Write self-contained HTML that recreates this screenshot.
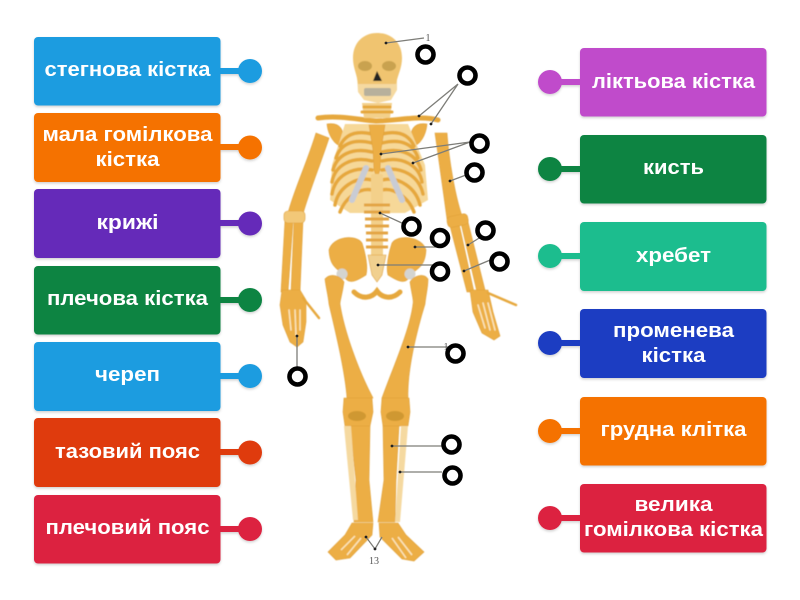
<!DOCTYPE html>
<html><head><meta charset="utf-8"><style>
html,body{margin:0;padding:0;background:#fff;width:800px;height:600px;overflow:hidden}
svg{display:block}
text{font-family:"Liberation Sans","DejaVu Sans",sans-serif;font-weight:700;font-size:20.5px;fill:#fff;text-anchor:middle}
.b{fill:#ecae45;stroke:#dfa038;stroke-width:.6}
.l{fill:#f5d9a0}
.r{fill:none;stroke:#e6a83e;stroke-width:3.5;stroke-linecap:round}
.w{fill:none;stroke:#fbe6bd;stroke-width:2.5;stroke-linecap:round}
.p{fill:none;stroke:#7d7d78;stroke-width:1.3}
.d{fill:#222}
.o{fill:#fff;stroke:#000;stroke-width:4.6}
.n{font-family:"Liberation Serif",serif;font-weight:400;font-size:10px;fill:#555}
</style></head><body>
<svg width="800" height="600" viewBox="0 0 800 600" xmlns="http://www.w3.org/2000/svg">
<defs><filter id="s" x="-10%" y="-10%" width="120%" height="125%"><feDropShadow dx="0" dy="1.5" stdDeviation="1.2" flood-color="#000" flood-opacity=".18"/></filter>
<filter id="bl" x="-5%" y="-5%" width="110%" height="110%"><feGaussianBlur stdDeviation="0.6"/></filter></defs>

<!-- skeleton -->
<g filter="url(#bl)">
<!-- arms -->
<path class="b" d="M316 133 L329 138 C322 160 308 195 303 214 L288 213 C294 190 308 160 316 133Z"/>
<path class="b" d="M285 220 L293 222 L288 292 L281 292Z"/>
<path class="b" d="M294 222 L303 220 L300 292 L291 292Z"/>
<rect class="b" x="284" y="211" width="21" height="12" rx="4" style="fill:#f2c878"/>
<path class="b" d="M435 133 L447 133 C449 160 455 195 462 216 L447 219 C443 190 439 160 435 133Z"/>
<path class="b" d="M449 222 L458 219 L474 292 L467 292Z"/>
<path class="b" d="M460 219 L468 222 L485 290 L477 292Z"/>
<rect class="b" x="447" y="215" width="21" height="11" rx="4" transform="rotate(-12 458 220)"/>
<!-- left hand -->
<path class="b" d="M282 290 L300 290 L306 300 L306 322 L303 342 L297 347 L290 342 L283 325 L280 305Z"/>
<path class="r" d="M303 298 L319 318" style="stroke-width:2.5"/>
<path class="w" d="M289 310 L291 330M295 310 L296 335M300 310 L300 330" style="stroke-width:1.5"/>
<!-- right hand -->
<path class="b" d="M470 290 L488 290 L493 312 L500 336 L494 340 L482 333 L473 312Z"/>
<path class="r" d="M488 293 L516 305" style="stroke-width:2.5"/>
<path class="w" d="M478 305 L485 328M483 303 L490 330M488 303 L495 330" style="stroke-width:1.5"/>
<!-- shoulders and clavicle -->
<path class="r" d="M318 118 C340 115 360 120 376 121 C395 121 420 115 438 120" style="stroke-width:5"/>
<path class="b" d="M327 124 C340 122 346 130 342 146 C335 146 328 135 327 124Z"/>
<path class="b" d="M427 124 C414 122 408 130 412 146 C420 146 426 135 427 124Z"/>
<!-- ribs -->
<path d="M345 124 L408 124 L425 165 L428 200 L405 213 L350 213 L330 200 L332 165Z" fill="#f6d898"/>
<path class="r" d="M372 134 C355 130 345 135 340 146M372 143 C352 138 340 145 336 158M372 152 C352 147 337 155 333 170M372 161 C352 156 335 165 332 182M372 170 C352 166 335 176 332 194M372 180 C355 176 338 188 335 205M372 190 C360 187 345 198 340 212"/>
<path class="r" d="M382 134 C399 130 409 135 414 146M382 143 C402 138 414 145 418 158M382 152 C402 147 417 155 421 170M382 161 C402 156 419 165 422 182M382 170 C402 166 419 176 423 194M382 180 C399 176 416 188 420 205M382 190 C394 187 409 198 414 212"/>
<path d="M366 168 L352 200M388 168 L402 200" fill="none" stroke="#c9ccd4" stroke-width="6" stroke-linecap="round"/>
<path class="b" d="M369 125 L385 125 L381 150 L380 170 L377 178 L374 170 L373 150Z"/>
<!-- spine -->
<path d="M362 103 L392 103 L390 118 L364 118Z" fill="#f3d08a"/>
<path class="r" d="M362 112 L392 112M364 107 L390 107" style="stroke-width:3"/>
<rect x="371" y="174" width="12" height="90" rx="2" fill="#f3d08a"/>
<path d="M364 205H390M364 212H390M365 219H389M365 226H389M366 233H388M366 240H388M366 247H388" stroke="#e3a544" stroke-width="3" fill="none"/>
<!-- pelvis -->
<path class="b" d="M329 250 C333 236 356 234 362 243 C366 255 368 268 366 275 C358 280 350 285 345 278 C340 268 330 270 329 250Z"/>
<path class="b" d="M426 250 C422 236 398 234 392 243 C388 255 386 268 388 275 C396 280 404 285 409 278 C414 268 425 270 426 250Z"/>
<path class="b" d="M368 255 L386 255 L382 275 L377 282 L372 275Z" style="fill:#f1d08f"/>
<path class="r" d="M354 292 C362 300 372 298 377 291 C382 298 392 300 400 292" style="stroke-width:5"/>
<circle cx="342" cy="274" r="5.5" fill="#d4d4d0"/><circle cx="410" cy="274" r="5.5" fill="#d4d4d0"/>
<!-- femurs -->
<path class="b" d="M325 279 C330 273 340 275 344 282 C342 296 340 300 340 304 C344 330 358 370 373 398 L347 398 C345 370 335 330 329 304 C328 294 326 288 325 279Z"/>
<path class="b" d="M428 279 C424 273 414 275 410 282 C412 296 414 300 413 304 C410 330 392 370 382 398 L408 398 C407 370 417 330 425 304 C426 294 428 288 428 279Z"/>
<!-- knees -->
<path class="b" d="M344 398 L372 398 L373 412 L370 426 L345 426 L343 412Z"/>
<path class="b" d="M382 398 L409 398 L410 412 L408 426 L383 426 L381 412Z"/>
<ellipse cx="357" cy="416" rx="9" ry="5" fill="#cf9830"/><ellipse cx="395" cy="416" rx="9" ry="5" fill="#cf9830"/>
<!-- lower legs -->
<path class="b" d="M350 426 L370 426 L369 480 L373 522 L354 522 L356 480Z"/>
<path class="l" d="M344 426 L351 426 L358 520 L353 520Z"/>
<path class="b" d="M383 426 L399 426 L396 480 L395 522 L378 522 L384 480Z"/>
<path class="l" d="M401 426 L408 426 L400 522 L395 522Z"/>
<!-- feet -->
<path class="b" d="M352 523 L373 523 L372 535 L350 558 L336 560 L328 552 L345 535Z"/>
<path class="b" d="M379 523 L398 523 L406 535 L424 552 L414 561 L402 559 L380 537Z"/>
<path d="M341 550 L355 536M347 555 L361 538M412 555 L398 537M406 558 L392 538" stroke="#fbe6bd" stroke-width="1.5" fill="none"/>
<!-- skull -->
<path class="l" d="M357 76 L397 76 L397 90 L391 100 L378 103 L364 100 L358 92Z"/>
<path d="M353 58 C353 42 364 33 377 33 C391 33 402 42 402 58 C402 68 398 74 396 84 L358 84 C357 74 353 68 353 58Z" fill="#f0c46f"/>
<ellipse cx="365" cy="66" rx="7" ry="5" fill="#c9a250"/><ellipse cx="389" cy="66" rx="7" ry="5" fill="#c9a250"/>
<path d="M377 71 L382 81 L373 81Z" fill="#222"/>
<rect x="364" y="88" width="27" height="8" rx="2" fill="#b7b09c"/>
</g>

<!-- pointer lines -->
<path class="p" d="M386 43 L424 38M419 116 L458 84M431 124 L458 84M381 154 L470 142M413 163 L470 142M450 181 L466 175M380 213 L404 224M415 247 L440 247M378 265 L440 265M468 245 L484 235M464 271 L495 258M297 336 L297 370M408 347 L450 347M392 446 L442 446M400 472 L442 472M366 537 L375 549 L382 537"/>
<g class="d"><circle cx="386" cy="43" r="1.4"/><circle cx="419" cy="116" r="1.4"/><circle cx="431" cy="124" r="1.4"/><circle cx="381" cy="154" r="1.4"/><circle cx="413" cy="163" r="1.4"/><circle cx="450" cy="181" r="1.4"/><circle cx="380" cy="213" r="1.4"/><circle cx="415" cy="247" r="1.4"/><circle cx="378" cy="265" r="1.4"/><circle cx="468" cy="245" r="1.4"/><circle cx="464" cy="271" r="1.4"/><circle cx="297" cy="336" r="1.4"/><circle cx="408" cy="347" r="1.4"/><circle cx="392" cy="446" r="1.4"/><circle cx="400" cy="472" r="1.4"/><circle cx="366" cy="537" r="1.4"/><circle cx="375" cy="549" r="1.4"/></g>
<text class="n" x="428" y="41">1</text>
<text class="n" x="374" y="564">13</text>
<text class="n" x="446" y="350">1</text>

<!-- rings -->
<g class="o"><circle cx="425.500" cy="54.500" r="8"/><circle cx="467.500" cy="75.500" r="8"/><circle cx="479.500" cy="143.500" r="8"/><circle cx="474.500" cy="172.500" r="8"/><circle cx="411.500" cy="226.500" r="8"/><circle cx="440" cy="238" r="8"/><circle cx="485.500" cy="230.500" r="8"/><circle cx="440" cy="271.500" r="8"/><circle cx="499.500" cy="261.500" r="8"/><circle cx="455.500" cy="353.500" r="8"/><circle cx="297.500" cy="376.500" r="8"/><circle cx="451.500" cy="444.500" r="8"/><circle cx="452.500" cy="475.500" r="8"/></g>

<!-- left labels -->
<g filter="url(#s)" fill="#1f9ce0"><rect x="34" y="37" width="186.500" height="68.500" rx="4"/><rect x="218" y="68" width="24" height="6"/><circle cx="250" cy="71" r="12"/></g>
<g filter="url(#s)" fill="#f57200"><rect x="34" y="113" width="186.500" height="69" rx="4"/><rect x="218" y="144" width="24" height="6"/><circle cx="250" cy="147.500" r="12"/></g>
<g filter="url(#s)" fill="#6529b9"><rect x="34" y="189" width="186.500" height="69" rx="4"/><rect x="218" y="220" width="24" height="6"/><circle cx="250" cy="223.500" r="12"/></g>
<g filter="url(#s)" fill="#0a8443"><rect x="34" y="266" width="186.500" height="68.500" rx="4"/><rect x="218" y="297" width="24" height="6"/><circle cx="250" cy="300" r="12"/></g>
<g filter="url(#s)" fill="#1f9ce0"><rect x="34" y="342" width="186.500" height="69" rx="4"/><rect x="218" y="373" width="24" height="6"/><circle cx="250" cy="376" r="12"/></g>
<g filter="url(#s)" fill="#df3a0e"><rect x="34" y="418" width="186.500" height="69" rx="4"/><rect x="218" y="449" width="24" height="6"/><circle cx="250" cy="452.500" r="12"/></g>
<g filter="url(#s)" fill="#dc2340"><rect x="34" y="495" width="186.500" height="68.500" rx="4"/><rect x="218" y="526" width="24" height="6"/><circle cx="250" cy="529" r="12"/></g>

<!-- right labels -->
<g filter="url(#s)" fill="#c04ccb"><rect x="580" y="48" width="186.500" height="68.500" rx="4"/><rect x="558" y="79" width="24" height="6"/><circle cx="550" cy="82" r="12"/></g>
<g filter="url(#s)" fill="#0a8443"><rect x="580" y="135" width="186.500" height="68.500" rx="4"/><rect x="558" y="166" width="24" height="6"/><circle cx="550" cy="169" r="12"/></g>
<g filter="url(#s)" fill="#1fbd8e"><rect x="580" y="222" width="186.500" height="69" rx="4"/><rect x="558" y="253" width="24" height="6"/><circle cx="550" cy="256" r="12"/></g>
<g filter="url(#s)" fill="#1f3cc2"><rect x="580" y="309" width="186.500" height="69" rx="4"/><rect x="558" y="340" width="24" height="6"/><circle cx="550" cy="343" r="12"/></g>
<g filter="url(#s)" fill="#f57200"><rect x="580" y="397" width="186.500" height="68.500" rx="4"/><rect x="558" y="428" width="24" height="6"/><circle cx="550" cy="431" r="12"/></g>
<g filter="url(#s)" fill="#dc2340"><rect x="580" y="484" width="186.500" height="68.500" rx="4"/><rect x="558" y="515" width="24" height="6"/><circle cx="550" cy="518" r="12"/></g>

<text x="127.500" y="76" textLength="166" lengthAdjust="spacingAndGlyphs">стегнова кістка</text>
<text x="127.500" y="141" textLength="170" lengthAdjust="spacingAndGlyphs">мала гомілкова</text>
<text x="127.500" y="166" textLength="64" lengthAdjust="spacingAndGlyphs">кістка</text>
<text x="127.500" y="229" textLength="62" lengthAdjust="spacingAndGlyphs">крижі</text>
<text x="127.500" y="305" textLength="161" lengthAdjust="spacingAndGlyphs">плечова кістка</text>
<text x="127.500" y="381" textLength="65" lengthAdjust="spacingAndGlyphs">череп</text>
<text x="127.500" y="458" textLength="145" lengthAdjust="spacingAndGlyphs">тазовий пояс</text>
<text x="127.500" y="534" textLength="164" lengthAdjust="spacingAndGlyphs">плечовий пояс</text>

<text x="673.500" y="88" textLength="163" lengthAdjust="spacingAndGlyphs">ліктьова кістка</text>
<text x="673.500" y="174" textLength="61" lengthAdjust="spacingAndGlyphs">кисть</text>
<text x="673.500" y="262" textLength="75" lengthAdjust="spacingAndGlyphs">хребет</text>
<text x="673.500" y="337" textLength="121" lengthAdjust="spacingAndGlyphs">променева</text>
<text x="673.500" y="362" textLength="64" lengthAdjust="spacingAndGlyphs">кістка</text>
<text x="673.500" y="436" textLength="146" lengthAdjust="spacingAndGlyphs">грудна клітка</text>
<text x="673.500" y="511" textLength="78" lengthAdjust="spacingAndGlyphs">велика</text>
<text x="673.500" y="536" textLength="179" lengthAdjust="spacingAndGlyphs">гомілкова кістка</text>
</svg>
</body></html>
